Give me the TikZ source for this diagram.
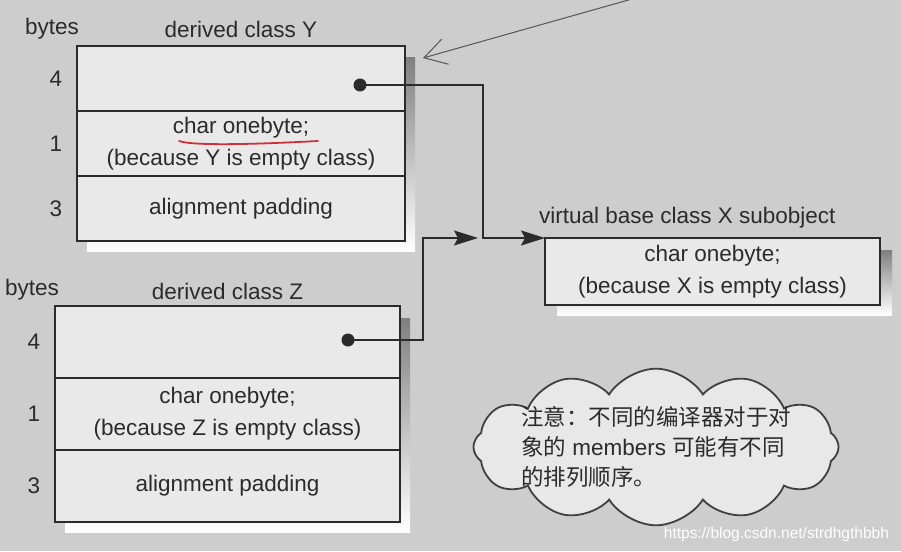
\documentclass[tikz,border=0pt]{standalone}
\usepackage{fontspec}
\setmainfont{Liberation Sans}
\newfontfamily\cjk{Noto Sans CJK SC}
\usepackage{tikz}
\usetikzlibrary{arrows.meta,positioning,shapes.symbols,calc,backgrounds}
\definecolor{paper}{HTML}{CDCDCD}
\definecolor{cellfill}{HTML}{E9E9E9}
\definecolor{shade}{HTML}{A2A2A2}
\definecolor{ink}{HTML}{2B2B2B}
\definecolor{redpen}{HTML}{D0303C}
\tikzset{
  every picture/.style = {
    x = 1pt,
    y = -1pt,
    line width = 1.6pt,
    >={Stealth[length=24pt, width=15pt, inset=4pt]},
    font = \fontsize{22.5}{32}\selectfont,
    text = ink
  }
  ,
  cell/.style = {
    rectangle,
    draw = ink,
    fill = cellfill,
    outer sep = 0pt,
    inner sep = 2pt,
    align = center
  }
  ,
  cell-y/.style = {cell, minimum width = 328pt, minimum height = 65pt}
  ,
  cell-z/.style = {cell, minimum width = 345pt, minimum height = 72pt}
  ,
  cell-x/.style = {cell, minimum width = 335pt, minimum height = 67pt}
  , % byte counts beside the rows
  row-num/.style = {
    inner sep = 3pt
  }
  ,
  ptr-dot/.style = {
    circle,
    fill = ink,
    inner sep = 0pt,
    minimum size = 13pt
  }
  ,
  ptr/.style = {
    draw = ink,
    ->
  }
  ,
  note/.style = {
    cloud,
    cloud puffs = 12,
    cloud puff arc = 115,
    cloud ignores aspect,
    draw = ink!90,
    line width = 1.8pt,
    fill = cellfill!95!paper,
    inner xsep = -7pt,
    inner ysep = -2pt,
    align = left,
    font = \fontsize{22.5}{30}\selectfont
  }
  ,
  pencil/.style = {
    draw = ink!80,
    line width = 1pt,
    -{Straight Barb[length=22pt, width=26pt]}
  }
}
\begin{document}
\begin{tikzpicture}
    \useasboundingbox (0,0) rectangle (901,551);

    % derived class Y
    \node [cell-y] (y1) at (241,78.5) {};
    \node [cell-y, below = 0pt of y1] (y2) {char onebyte;\\(because Y is empty class)};
    \node [cell-y, below = 0pt of y2] (y3) {alignment padding};
    \node [above = 4pt of y1.north] (ytitle) {derived class Y};
    \node [above left = 3pt and -6pt of y1.north west] (ybytes) {bytes};
    \node [row-num, left = 11pt of y1.west] {4};
    \node [row-num, left = 11pt of y2.west] {1};
    \node [row-num, left = 11pt of y3.west] {3};

    % derived class Z
    \node [cell-z] (z1) at (227.5,342) {};
    \node [cell-z, below = 0pt of z1] (z2) {char onebyte;\\(because Z is empty class)};
    \node [cell-z, below = 0pt of z2] (z3) {alignment padding};
    \node [above = 2pt of z1.north] (ztitle) {derived class Z};
    \node [above left = 2pt and -8pt of z1.north west] (zbytes) {bytes};
    \node [row-num, left = 11pt of z1.west] {4};
    \node [row-num, left = 11pt of z2.west] {1};
    \node [row-num, left = 11pt of z3.west] {3};

    % virtual base class X
    \node [cell-x] (x1) at (712.5,271.5) {char onebyte;\\(because X is empty class)};
    \node [above right = 6pt and -10pt of x1.north west] (xtitle) {virtual base class X subobject};

    \node [ptr-dot] (ydot) at (360,85) {};
    \node [ptr-dot] (zdot) at (348,340) {};
    \coordinate (ybend) at (483,0);
    \coordinate (zbend) at (423,0);
    \coordinate (zend) at ($(ybend |- x1.north west)+(-5,0)$);

    \draw [ptr] (ydot.center) -| (ybend |- x1.north west) -- (x1.north west);
    \draw [ptr] (zdot.center) -| (zbend |- x1.north west) -- (zend);

    \node [note] (cloud) at (656,447)
      {{\cjk 注意：不同的编译器对于对}\\{\cjk 象的} members {\cjk 可能有不同}\\{\cjk 的排列顺序。}};

    % pen marks on the page
    \coordinate (pen) at (632,-1);
    \coordinate (ymark) at (423,58);
    \draw [pencil] (pen) -- (ymark);
    \draw [redpen, line width = 1.8pt, line cap = round]
      (179,141) .. controls (196,147) and (280,143) .. (318,141);

    \node [anchor = south east, text = white, font = \fontsize{15.5}{18}\selectfont]
      at (893,546) {https://blog.csdn.net/strdhgthbbh};

    \begin{scope}[on background layer]
      \fill [paper] (0,0) rectangle (901,551);
      \fill [shade] ($(y1.north west)+(10,12)$) rectangle ($(y3.south east)+(10,10)$);
      \fill [shade] ($(z1.north west)+(10,12)$) rectangle ($(z3.south east)+(10,10)$);
      \fill [shade] ($(x1.north west)+(12,12)$) rectangle ($(x1.south east)+(12,10)$);
    \end{scope}
\end{tikzpicture}
\end{document}
